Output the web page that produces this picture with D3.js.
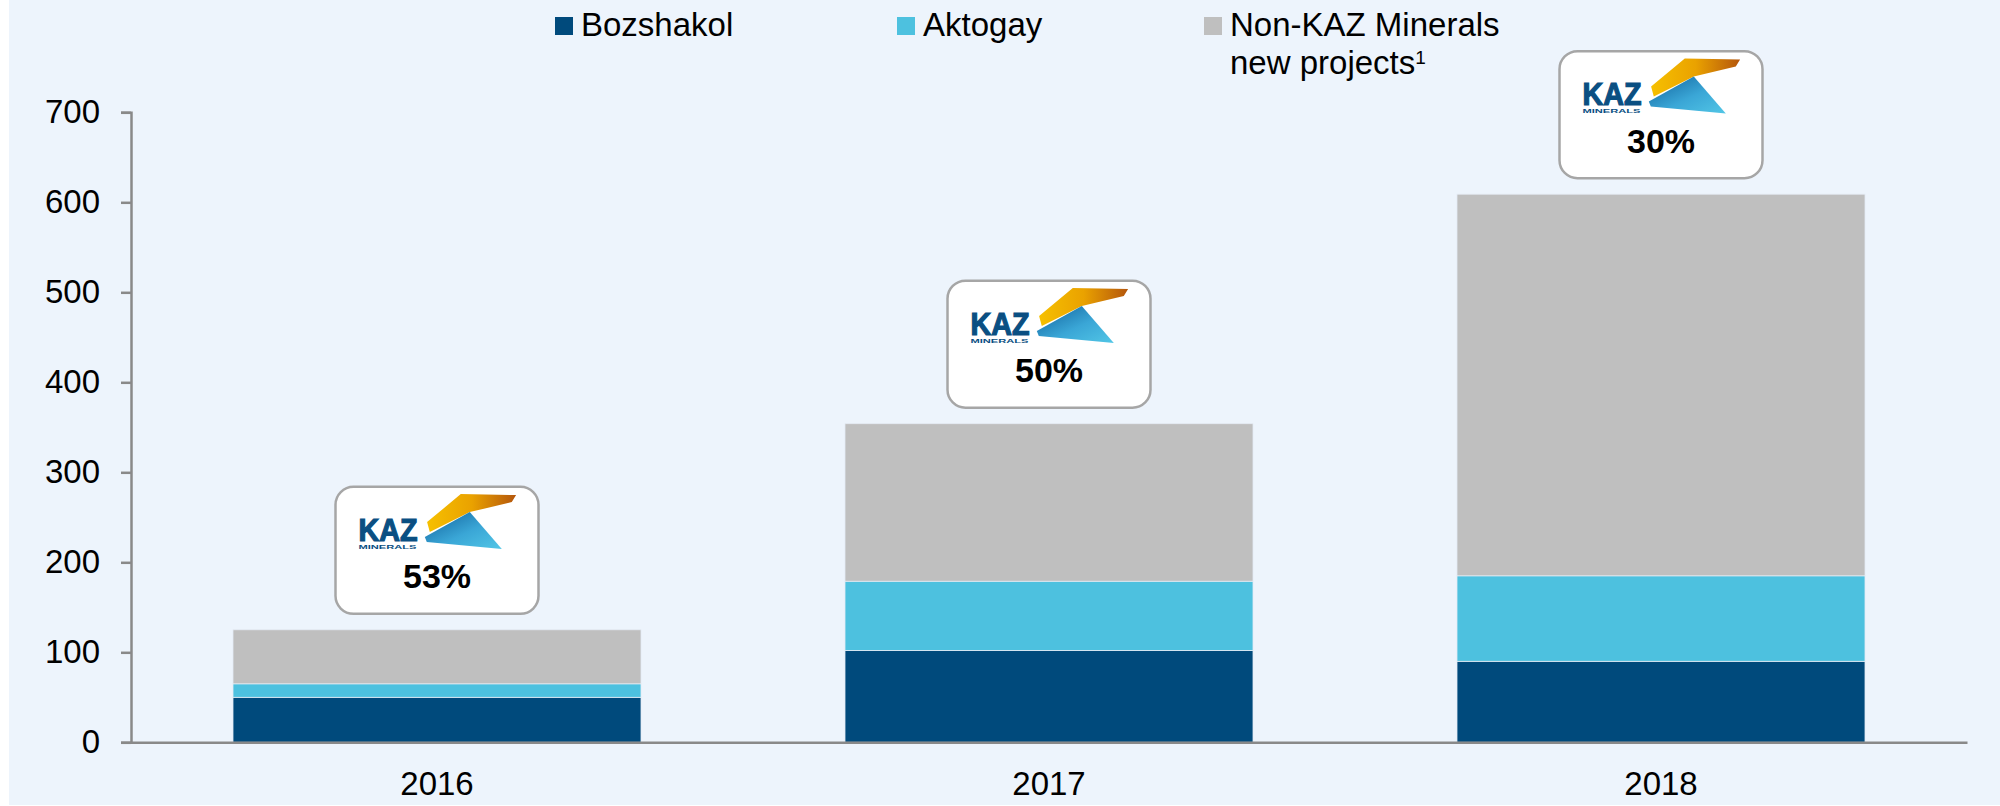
<!DOCTYPE html>
<html lang="en">
	<head>
		<meta charset="utf-8">
		<title>KAZ Minerals share of new copper projects</title>
		<script type="text/javascript" src="https://cdn.jsdelivr.net/npm/d3@7"></script>
		<style type="text/css">
			body { margin: 0; background: #fff; }
			svg { display: block; font-family: Arial, "Liberation Sans", sans-serif; }
		</style>
	</head>
	<body>
		<script type="text/javascript">
			//Data
			var years = ["2016", "2017", "2018"];
			var bozshakol = [50, 102, 90];
			var aktogay = [15, 77, 95];
			var nonKaz = [60, 175, 424];
			var kazShare = ["53%", "50%", "30%"];
			var yTicks = [0, 100, 200, 300, 400, 500, 600, 700];
			var seriesNames = ["Bozshakol", "Aktogay", "Non-KAZ Minerals"];
			var colors = ["#004a7c", "#4dc1df", "#bfbfbf"];

			//Width and height
			var w = 2000;
			var h = 806;
			var plotLeft = 131, plotRight = 1967, plotTop = 112.3, plotBottom = 742.3;

			var table = years.map(function(y, i) {
				return { year: y, b: bozshakol[i], a: aktogay[i], n: nonKaz[i], share: kazShare[i] };
			});
			var stack = d3.stack().keys(["b", "a", "n"])(table);

			var xScale = d3.scaleBand()
							.domain(years)
							.range([plotLeft, plotRight])
							.paddingInner(1 / 3)
							.paddingOuter(1 / 6);
			var yScale = d3.scaleLinear()
							.domain([0, 700])
							.range([plotBottom, plotTop]);

			var svg = d3.select("body")
						.append("svg")
						.attr("width", w)
						.attr("height", h);

			//Background panel
			svg.append("rect")
			   .attr("x", 9)
			   .attr("y", 0)
			   .attr("width", w - 9)
			   .attr("height", 805)
			   .attr("fill", "#edf4fc");

			//Gradients for the logo
			var defs = svg.append("defs");
			var gY = defs.append("linearGradient").attr("id", "wing").attr("x1", "0").attr("x2", "1").attr("y1", "0").attr("y2", "0");
			gY.append("stop").attr("offset", "0").attr("stop-color", "#f6c000");
			gY.append("stop").attr("offset", "0.5").attr("stop-color", "#eaa200");
			gY.append("stop").attr("offset", "1").attr("stop-color", "#b4560c");
			var gB = defs.append("linearGradient").attr("id", "tri").attr("x1", "0").attr("x2", "1").attr("y1", "0").attr("y2", "1");
			gB.append("stop").attr("offset", "0").attr("stop-color", "#0f5f9a");
			gB.append("stop").attr("offset", "0.55").attr("stop-color", "#3aa6d6");
			gB.append("stop").attr("offset", "1").attr("stop-color", "#52c6e6");

			//Bars
			svg.selectAll("g.series")
			   .data(stack)
			   .enter()
			   .append("g")
			   .attr("class", "series")
			   .attr("fill", function(d, i) { return colors[i]; })
			   .selectAll("rect")
			   .data(function(d) { return d; })
			   .enter()
			   .append("rect")
			   .attr("x", function(d) { return xScale(d.data.year); })
			   .attr("y", function(d) { return yScale(d[1]); })
			   .attr("width", xScale.bandwidth())
			   .attr("height", function(d) { return yScale(d[0]) - yScale(d[1]); })
			   .attr("stroke", "#e4ecf4")
			   .attr("stroke-width", 0.8);

			//Y axis
			var yAxis = svg.append("g")
			   .attr("transform", "translate(" + plotLeft + ",0)")
			   .call(d3.axisLeft(yScale).tickValues(yTicks).tickSize(10).tickPadding(21));
			yAxis.selectAll("path, line").attr("stroke", "#898989").attr("stroke-width", 2.5);
			yAxis.selectAll("text").attr("font-size", "33px").attr("font-family", "Arial, 'Liberation Sans', sans-serif").attr("fill", "#000");

			//X axis
			var xAxis = svg.append("g")
			   .attr("transform", "translate(0," + plotBottom + ")")
			   .call(d3.axisBottom(xScale).tickSize(0).tickPadding(29).tickSizeOuter(0));
			xAxis.select("path").attr("stroke", "#898989").attr("stroke-width", 2.5);
			xAxis.selectAll("text").attr("font-size", "33px").attr("font-family", "Arial, 'Liberation Sans', sans-serif").attr("fill", "#000");

			//Callout boxes with logo
			var bw = 203, bh = 127;
			var boxes = svg.selectAll("g.callout")
			   .data(table)
			   .enter()
			   .append("g")
			   .attr("class", "callout")
			   .attr("transform", function(d) {
			   		var cx = xScale(d.year) + xScale.bandwidth() / 2;
			   		var total = d.b + d.a + d.n;
			   		return "translate(" + (cx - bw / 2) + "," + (yScale(total) - 16 - bh) + ")";
			   });
			boxes.append("rect")
			   .attr("x", 0).attr("y", 0)
			   .attr("width", bw).attr("height", bh)
			   .attr("rx", 18).attr("ry", 18)
			   .attr("fill", "#fff")
			   .attr("stroke", "#a6a6a6")
			   .attr("stroke-width", 2.5);
			boxes.append("text")
			   .attr("x", 23).attr("y", 54)
			   .attr("textLength", 59).attr("lengthAdjust", "spacingAndGlyphs")
			   .attr("font-size", "31px").attr("font-weight", "bold")
			   .attr("fill", "#0a4f82")
			   .attr("stroke", "#0a4f82").attr("stroke-width", 1.2)
			   .text("KAZ");
			boxes.append("text")
			   .attr("x", 23).attr("y", 62)
			   .attr("textLength", 58).attr("lengthAdjust", "spacingAndGlyphs")
			   .attr("font-size", "5.5px").attr("font-weight", "bold")
			   .attr("fill", "#0a4f82")
			   .text("MINERALS");
			boxes.append("polygon")
			   .attr("points", "91.6,35.3 125.3,7.3 180.6,8.3 176.3,15.3 134.3,25.3 94.3,45.3")
			   .attr("fill", "url(#wing)");
			boxes.append("polygon")
			   .attr("points", "89.3,50.3 134.3,25.3 166.3,62.3 91.3,55.3")
			   .attr("fill", "url(#tri)");
			boxes.append("text")
			   .attr("x", bw / 2).attr("y", 101.6)
			   .attr("text-anchor", "middle")
			   .attr("font-size", "34px").attr("font-weight", "bold")
			   .attr("fill", "#000")
			   .text(function(d) { return d.share; });

			//Legend
			var legendX = [555, 897, 1204];
			var legend = svg.selectAll("g.legend")
			   .data(seriesNames)
			   .enter()
			   .append("g")
			   .attr("class", "legend")
			   .attr("transform", function(d, i) { return "translate(" + legendX[i] + ",0)"; });
			legend.append("rect")
			   .attr("x", 0).attr("y", 17)
			   .attr("width", 18).attr("height", 18)
			   .attr("fill", function(d, i) { return colors[i]; });
			legend.append("text")
			   .attr("x", 26).attr("y", 36)
			   .attr("font-size", "33px")
			   .attr("fill", "#000")
			   .text(function(d) { return d; });
			var extra = legend.filter(function(d, i) { return i === 2; })
			   .append("text")
			   .attr("x", 26).attr("y", 74)
			   .attr("font-size", "33px")
			   .attr("fill", "#000");
			extra.append("tspan").text("new projects");
			extra.append("tspan").attr("dy", -10).attr("font-size", "19px").text("1");
		</script>
	</body>
</html>
